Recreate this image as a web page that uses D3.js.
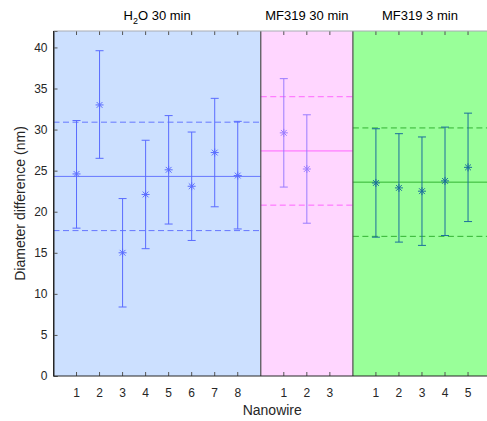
<!DOCTYPE html>
<html>
<head>
<meta charset="utf-8">
<script src="https://cdn.jsdelivr.net/npm/d3@7"></script>
<style>
  body { margin: 0; background: #fff; }
  svg { font-family: "Liberation Sans", Arial, sans-serif; }
</style>
</head>
<body>
<div id="chart"></div>
<script>
// groups and how many nanowires sit in each
var groupNames = ["H2O 30 min", "MF319 30 min", "MF319 3 min"];
var nanowireCounts = [8, 3, 5];

// per nanowire: mean and error bar ends (nm)
var h2oMean = [24.6, 33.0, 15.0, 22.1, 25.1, 23.1, 27.2, 24.4];
var h2oLow  = [18.0, 26.5, 8.4, 15.5, 18.5, 16.5, 20.6, 17.9];
var h2oHigh = [31.1, 39.6, 21.6, 28.7, 31.7, 29.7, 33.8, 31.0];

var mf30Mean = [29.6, 25.2];
var mf30Low  = [23.0, 18.6];
var mf30High = [36.2, 31.8];

var mf3Mean = [23.5, 22.9, 22.5, 23.75, 25.4];
var mf3Low  = [16.9, 16.3, 15.9, 17.1, 18.8];
var mf3High = [30.1, 29.5, 29.1, 30.3, 32.0];

// group mean and +/- band
var groupMean  = [24.3, 27.4, 23.6];
var groupUpper = [30.9, 34.0, 30.2];
var groupLower = [17.7, 20.8, 17.0];

var yTicks = [0, 5, 10, 15, 20, 25, 30, 35, 40];

var bgColors   = ["#cce0ff", "#ffd6ff", "#99ff99"];
var barColors  = ["#5a6cff", "#9a7cff", "#1b6f9c"];
var lineColors = ["#6677ff", "#ff66ff", "#33b333"];

var width = 487, height = 421;
var plotLeft = 53.5, plotTop = 31, plotBottom = 376;

var svg = d3.select("#chart").append("svg")
  .attr("width", width)
  .attr("height", height);

// group start positions on the continuous x index
var starts = [];
var s = 0;
nanowireCounts.forEach(function(c) { starts.push(s); s += c + 1; });
var xEnd = s; // 19

var x = d3.scaleLinear().domain([0, xEnd]).range([plotLeft, plotLeft + xEnd * 23.03]);
var y = d3.scaleLinear().domain([0, 42]).range([plotBottom, plotTop]);

var series = [
  { mean: h2oMean, low: h2oLow, high: h2oHigh },
  { mean: mf30Mean, low: mf30Low, high: mf30High },
  { mean: mf3Mean, low: mf3Low, high: mf3High }
];

var panels = groupNames.map(function(name, g) {
  var x0 = starts[g];
  var x1 = g < groupNames.length - 1 ? starts[g + 1] : xEnd;
  return { name: name, g: g, x0: x0, x1: x1 };
});

// backgrounds
svg.selectAll("rect.bg")
  .data(panels)
  .enter().append("rect")
  .attr("class", "bg")
  .attr("x", function(d) { return x(d.x0); })
  .attr("y", plotTop)
  .attr("width", function(d) { return x(d.x1) - x(d.x0); })
  .attr("height", plotBottom - plotTop)
  .attr("fill", function(d) { return bgColors[d.g]; });

// group mean and dashed band lines
panels.forEach(function(p) {
  var lines = [
    { v: groupMean[p.g], dash: null },
    { v: groupUpper[p.g], dash: "6,3.5" },
    { v: groupLower[p.g], dash: "6,3.5" }
  ];
  svg.append("g").selectAll("line")
    .data(lines)
    .enter().append("line")
    .attr("x1", x(p.x0)).attr("x2", x(p.x1))
    .attr("y1", function(d) { return y(d.v); })
    .attr("y2", function(d) { return y(d.v); })
    .attr("stroke", lineColors[p.g])
    .attr("stroke-width", 1)
    .attr("stroke-dasharray", function(d) { return d.dash; });
});

// error bars and asterisk markers
panels.forEach(function(p) {
  var ser = series[p.g];
  var pts = ser.mean.map(function(m, i) {
    return { pos: p.x0 + i + 1, mean: m, low: ser.low[i], high: ser.high[i] };
  });
  var gg = svg.append("g")
    .attr("stroke", barColors[p.g])
    .attr("stroke-width", 1)
    .attr("fill", "none");

  var bars = gg.selectAll("g.bar").data(pts).enter().append("g").attr("class", "bar");
  bars.append("line")
    .attr("x1", function(d) { return x(d.pos); })
    .attr("x2", function(d) { return x(d.pos); })
    .attr("y1", function(d) { return y(d.low); })
    .attr("y2", function(d) { return y(d.high); });
  bars.append("line")
    .attr("x1", function(d) { return x(d.pos) - 4; })
    .attr("x2", function(d) { return x(d.pos) + 4; })
    .attr("y1", function(d) { return y(d.high); })
    .attr("y2", function(d) { return y(d.high); });
  bars.append("line")
    .attr("x1", function(d) { return x(d.pos) - 4; })
    .attr("x2", function(d) { return x(d.pos) + 4; })
    .attr("y1", function(d) { return y(d.low); })
    .attr("y2", function(d) { return y(d.low); });
  // asterisk: + and x
  bars.append("path")
    .attr("d", function(d) {
      var cx = x(d.pos), cy = y(d.mean), r = 4, q = 2.9;
      return "M" + (cx - r) + "," + cy + "H" + (cx + r) +
        "M" + cx + "," + (cy - r) + "V" + (cy + r) +
        "M" + (cx - q) + "," + (cy - q) + "L" + (cx + q) + "," + (cy + q) +
        "M" + (cx - q) + "," + (cy + q) + "L" + (cx + q) + "," + (cy - q);
    });
});

// panel divider lines
svg.selectAll("line.div")
  .data(panels.slice(1))
  .enter().append("line")
  .attr("class", "div")
  .attr("x1", function(d) { return x(d.x0); })
  .attr("x2", function(d) { return x(d.x0); })
  .attr("y1", plotTop).attr("y2", plotBottom)
  .attr("stroke", "#4d4d4d")
  .attr("stroke-width", 1.2);

// x ticks (inward, top and bottom) and labels
var xTickData = [];
panels.forEach(function(p) {
  for (var i = 1; i <= nanowireCounts[p.g]; i++) xTickData.push({ pos: p.x0 + i, label: i });
});

svg.append("g").selectAll("line")
  .data(xTickData)
  .enter().append("line")
  .attr("x1", function(d) { return x(d.pos); })
  .attr("x2", function(d) { return x(d.pos); })
  .attr("y1", plotBottom).attr("y2", plotBottom - 4)
  .attr("stroke", "#555");
svg.append("g").selectAll("line")
  .data(xTickData)
  .enter().append("line")
  .attr("x1", function(d) { return x(d.pos); })
  .attr("x2", function(d) { return x(d.pos); })
  .attr("y1", plotTop).attr("y2", plotTop + 4)
  .attr("stroke", "#555");
svg.append("g").selectAll("text")
  .data(xTickData)
  .enter().append("text")
  .attr("x", function(d) { return x(d.pos); })
  .attr("y", plotBottom + 20.5)
  .attr("text-anchor", "middle")
  .attr("font-size", 12)
  .attr("fill", "#262626")
  .text(function(d) { return d.label; });

// y axis via d3 axis
var yAxis = svg.append("g")
  .attr("transform", "translate(" + plotLeft + ",0)")
  .call(d3.axisLeft(y).tickValues(yTicks).tickSize(-4).tickPadding(6));
yAxis.select(".domain").attr("stroke", "#262626");
yAxis.selectAll(".tick line").attr("stroke", "#555");
yAxis.selectAll(".tick text")
  .attr("font-size", 12)
  .attr("font-family", "Liberation Sans, Arial, sans-serif")
  .attr("fill", "#262626");

// top and bottom borders
svg.append("line")
  .attr("x1", plotLeft).attr("x2", width)
  .attr("y1", plotTop).attr("y2", plotTop)
  .attr("stroke", "#a8acb4");
svg.append("line")
  .attr("x1", plotLeft).attr("x2", width)
  .attr("y1", plotBottom).attr("y2", plotBottom)
  .attr("stroke", "#262626");
svg.append("line")
  .attr("x1", plotLeft).attr("x2", plotLeft)
  .attr("y1", plotTop).attr("y2", plotBottom)
  .attr("stroke", "#262626");

// panel titles
var titles = svg.append("g").selectAll("text")
  .data(panels)
  .enter().append("text")
  .attr("x", function(d) { return (x(d.x0) + Math.min(x(d.x1), width)) / 2; })
  .attr("y", 20)
  .attr("text-anchor", "middle")
  .attr("font-size", 13)
  .attr("fill", "#000");
titles.each(function(d) {
  var t = d3.select(this);
  if (d.name.indexOf("H2O") === 0) {
    t.append("tspan").text("H");
    t.append("tspan").attr("font-size", 9).attr("dy", 4).text("2");
    t.append("tspan").attr("dy", -4).text(d.name.slice(2));
  } else {
    t.text(d.name);
  }
});

// axis labels
svg.append("text")
  .attr("x", (plotLeft + width) / 2 + 2)
  .attr("y", 415)
  .attr("text-anchor", "middle")
  .attr("font-size", 14)
  .attr("fill", "#262626")
  .text("Nanowire");

svg.append("text")
  .attr("transform", "translate(25," + ((plotTop + plotBottom) / 2) + ") rotate(-90)")
  .attr("text-anchor", "middle")
  .attr("font-size", 14)
  .attr("fill", "#262626")
  .text("Diameter difference (nm)");
</script>
</body>
</html>
